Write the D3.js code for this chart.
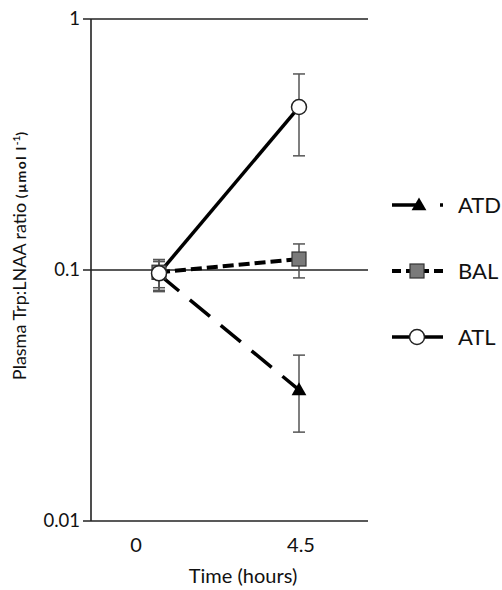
<!DOCTYPE html>
<html>
<head>
<meta charset="utf-8">
<script src="https://cdn.jsdelivr.net/npm/d3@7"></script>
<style>
  body { margin: 0; background: #fff; }
  text { font-family: Lato, "Noto Sans", sans-serif; fill: #111; }
</style>
</head>
<body>
<script>
// data
var times = [0, 4.5];
var timeLabels = ["0", "4.5"];
var yTicks = [0.01, 0.1, 1];
var yTickLabels = ["0.01", "0.1", "1"];

var atdMean = [0.096, 0.0333], atdLo = [0.082, 0.0226], atdHi = [0.108, 0.0458];
var balMean = [0.098, 0.1106], balLo = [0.085, 0.093], balHi = [0.11, 0.127];
var atlMean = [0.097, 0.446], atlLo = [0.083, 0.285], atlHi = [0.11, 0.604];

var seriesNames = ["ATD", "BAL", "ATL"];

var width = 502, height = 590;

var svg = d3.select("body").append("svg")
    .attr("width", width)
    .attr("height", height);

// scales
var y = d3.scaleLog().domain([0.01, 1]).range([521, 19]);
var x = d3.scaleLinear().domain([0, 4.5]).range([159, 299]);      // points
var xLab = d3.scaleLinear().domain([0, 4.5]).range([136, 301]);   // category labels
var axisLeft = 91, axisRight = 368;

// horizontal lines at each decade (incl. x axis)
svg.selectAll(".hline")
    .data(yTicks)
  .enter().append("line")
    .attr("x1", axisLeft - 8).attr("x2", axisRight)
    .attr("y1", function(d) { return y(d); })
    .attr("y2", function(d) { return y(d); })
    .attr("stroke", "#222").attr("stroke-width", 1.6);

// y axis
svg.append("line")
    .attr("x1", axisLeft).attr("x2", axisLeft)
    .attr("y1", y(1)).attr("y2", y(0.01))
    .attr("stroke", "#222").attr("stroke-width", 1.6);

svg.selectAll(".ylab")
    .data(yTicks)
  .enter().append("text")
    .attr("x", 80)
    .attr("y", function(d) { return y(d); })
    .attr("dy", "0.35em")
    .attr("text-anchor", "end")
    .style("font-size", "18.5px")
    .text(function(d, i) { return yTickLabels[i]; });

svg.selectAll(".xlab")
    .data(times)
  .enter().append("text")
    .attr("x", function(d) { return xLab(d); })
    .attr("y", 552)
    .attr("text-anchor", "middle")
    .style("font-size", "20px")
    .text(function(d, i) { return timeLabels[i]; });

svg.append("text")
    .attr("x", 243).attr("y", 583)
    .attr("text-anchor", "middle")
    .style("font-size", "20px")
    .text("Time (hours)");

var yt = svg.append("text")
    .attr("transform", "translate(26,256) rotate(-90)")
    .attr("text-anchor", "middle")
    .style("font-size", "18px");
yt.append("tspan").text("Plasma Trp:LNAA ratio ");
yt.append("tspan").style("font-size", "14px").style("font-weight", "bold").style("letter-spacing", "1.4px").text("(µmol l");
yt.append("tspan").style("font-size", "10px").style("font-weight", "bold").attr("dy", "-6").text("-1");
yt.append("tspan").style("font-size", "14px").style("font-weight", "bold").attr("dy", "6").text(")");

var series = [
  {name: "ATD", mean: atdMean, lo: atdLo, hi: atdHi, dash: "26,14", w: 3.5},
  {name: "BAL", mean: balMean, lo: balLo, hi: balHi, dash: "11,5", w: 4},
  {name: "ATL", mean: atlMean, lo: atlLo, hi: atlHi, dash: null, w: 3.5}
];

var line = d3.line()
    .x(function(d) { return x(d.t); })
    .y(function(d) { return y(d.v); });

function pts(s) {
  return times.map(function(t, i) { return {t: t, v: s.mean[i], lo: s.lo[i], hi: s.hi[i]}; });
}

// lines
series.forEach(function(s) {
  svg.append("path")
      .datum(pts(s))
      .attr("d", line)
      .attr("fill", "none")
      .attr("stroke", "#000")
      .attr("stroke-width", s.w)
      .attr("stroke-dasharray", s.dash);
});

// error bars
series.forEach(function(s) {
  var g = svg.append("g").attr("stroke", "#555").attr("stroke-width", 1.5);
  pts(s).forEach(function(p) {
    g.append("line").attr("x1", x(p.t)).attr("x2", x(p.t)).attr("y1", y(p.lo)).attr("y2", y(p.hi));
    g.append("line").attr("x1", x(p.t) - 6).attr("x2", x(p.t) + 6).attr("y1", y(p.lo)).attr("y2", y(p.lo));
    g.append("line").attr("x1", x(p.t) - 6).attr("x2", x(p.t) + 6).attr("y1", y(p.hi)).attr("y2", y(p.hi));
  });
});

function marker(g, name, cx, cy) {
  if (name === "ATD") {
    g.append("path")
        .attr("d", d3.symbol().type(d3.symbolTriangle).size(95)())
        .attr("transform", "translate(" + cx + "," + (cy + 1) + ")")
        .attr("fill", "#000");
  } else if (name === "BAL") {
    g.append("rect")
        .attr("x", cx - 7).attr("y", cy - 7).attr("width", 14).attr("height", 14)
        .attr("fill", "#7a7a7a").attr("stroke", "#333").attr("stroke-width", 1.2);
  } else {
    g.append("circle")
        .attr("cx", cx).attr("cy", cy).attr("r", 7.5)
        .attr("fill", "#fff").attr("stroke", "#222").attr("stroke-width", 1.5);
  }
}

// markers
series.forEach(function(s) {
  pts(s).forEach(function(p) { marker(svg, s.name, x(p.t), y(p.v)); });
});

// legend
var legY = d3.scalePoint().domain(seriesNames).range([205, 337]);
var legendDash = {ATD: "28,20,3,60", BAL: "9,5", ATL: null};
series.forEach(function(s) {
  var ly = legY(s.name);
  svg.append("line")
      .attr("x1", 392).attr("x2", 443)
      .attr("y1", ly).attr("y2", ly)
      .attr("stroke", "#000").attr("stroke-width", s.w)
      .attr("stroke-dasharray", legendDash[s.name]);
  marker(svg, s.name, s.name === "ATD" ? 419 : 417, ly);
  svg.append("text")
      .attr("x", 458).attr("y", ly)
      .attr("dy", "0.35em")
      .style("font-size", "22px")
      .text(s.name);
});
</script>
</body>
</html>
